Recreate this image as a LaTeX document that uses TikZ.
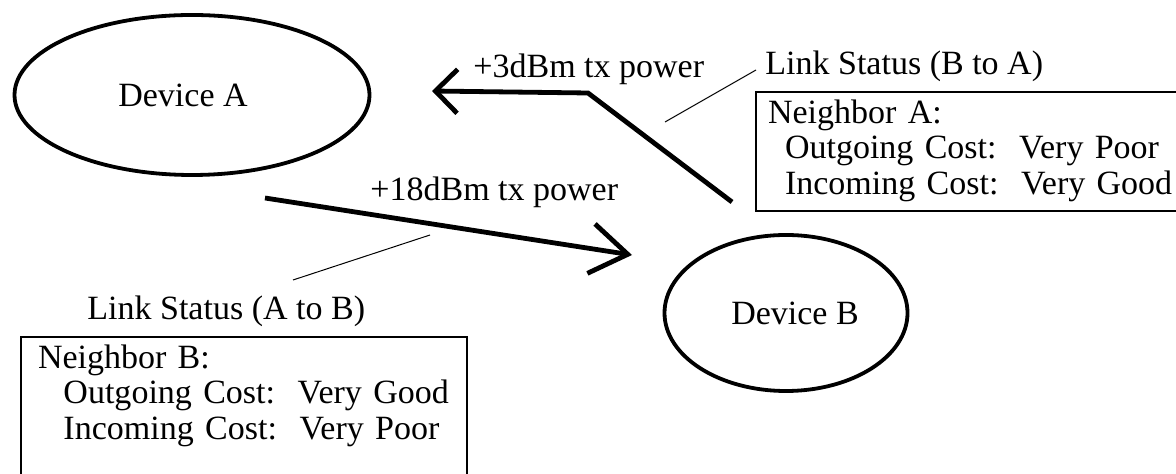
\documentclass[tikz,border=0pt]{standalone}
\usepackage{fontspec}
\setmainfont{Liberation Serif}
\frenchspacing
\usetikzlibrary{arrows.meta,shapes.geometric}

\begin{document}
\begin{tikzpicture}[x=0.5pt,y=-0.5pt,
  every node/.style={font=\fontsize{17}{17.75}\selectfont},
  device/.style={draw,ellipse,line width=1.9pt,inner sep=0pt},
  txt/.style={inner sep=0pt,anchor=base west},
  statusbox/.style={draw,line width=1pt,anchor=north west,align=left,inner ysep=3.1pt},
  power/.style={line width=2.4pt},
  leader/.style={line width=0.5pt}]
\useasboundingbox (0,0) rectangle (1176,474);
\clip (0,0) rectangle (1176,474);
% Devices
\node[device,minimum width=177.5pt,minimum height=80pt] (devA) at (192,95) {Device A\hspace*{9pt}};
\node[device,minimum width=121.5pt,minimum height=78pt] (devB) at (786,313) {\hspace*{9pt}Device B};
% Link status
\node[statusbox,inner xsep=6pt,text width=215pt] (boxBA) at (755,91) {\begin{tabular}{@{}l@{}}Neighbor A:\\
  \hspace*{0.5em}Outgoing Cost:~ Very Poor\\
  \hspace*{0.5em}Incoming Cost:~ Very Good\end{tabular}};
\node[statusbox,inner xsep=8.5pt,text width=206pt] (boxAB) at (20,336) {\begin{tabular}{@{}l@{}}Neighbor B:\\
  \hspace*{0.75em}Outgoing Cost:~ Very Good\\
  \hspace*{0.75em}Incoming Cost:~ Very Poor\\[20pt]\end{tabular}};
\node[txt] (stBA) at (765,75) {Link Status (B to A)};
\node[txt] (stAB) at (87,320) {Link Status (A to B)};
\node[txt] (pwrBA) at (473,78) {+3dBm tx power};
\node[txt] (pwrAB) at (370,201) {+18dBm tx power};
% Transmissions
\coordinate (abtail) at (265,198);
\coordinate (abhead) at (632,255);
\coordinate (batail) at (732,202);
\coordinate (babend) at (588,93);
\coordinate (bahead) at (432,91);
\draw[power,-{Straight Barb[length=18.5pt,width=25pt]}] (abtail) -- (abhead);
\draw[power,-{Straight Barb[length=11pt,width=22pt]}] (batail) -- (babend) -- (bahead);
%Leaders
\coordinate (abnote) at (293,280);
\coordinate (abmark) at (430,235);
\coordinate (banote) at (756,70);
\coordinate (bamark) at (665,122);
\draw[leader] (abnote) -- (abmark);
\draw[leader] (banote) -- (bamark);
\end{tikzpicture}
\end{document}
